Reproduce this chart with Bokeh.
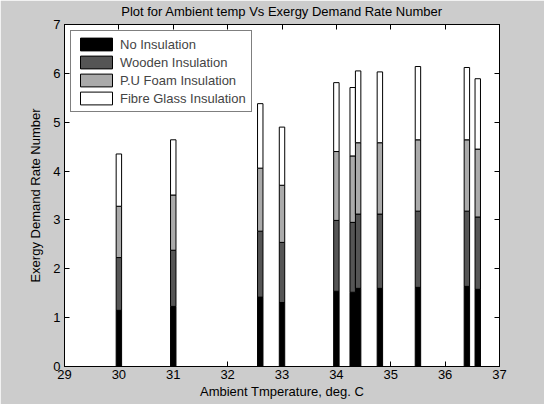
from bokeh.plotting import figure
from bokeh.models import ColumnDataSource, Legend, LegendItem, LinearAxis, FixedTicker, Range1d
from bokeh.embed import file_html
from bokeh.resources import INLINE

# Data
temps = [30.0, 31.0, 32.6, 33.0, 34.0, 34.3, 34.4, 34.8, 35.5, 36.4, 36.6]
no_insulation = [1.15, 1.23, 1.42, 1.31, 1.54, 1.52, 1.60, 1.60, 1.62, 1.64, 1.58]
wooden_insulation = [1.08, 1.15, 1.35, 1.23, 1.45, 1.43, 1.52, 1.52, 1.56, 1.54, 1.48]
pu_foam_insulation = [1.05, 1.13, 1.29, 1.17, 1.41, 1.36, 1.46, 1.46, 1.46, 1.46, 1.39]
fibre_glass_insulation = [1.07, 1.13, 1.32, 1.19, 1.41, 1.40, 1.47, 1.45, 1.50, 1.48, 1.44]
series_names = ["No Insulation", "Wooden Insulation", "P.U Foam Insulation", "Fibre Glass Insulation"]
series_colors = ["#000000", "#555555", "#aaaaaa", "#ffffff"]
x_ticks = [29, 30, 31, 32, 33, 34, 35, 36, 37]
y_ticks = [0, 1, 2, 3, 4, 5, 6, 7]

FONT = "Liberation Sans"

src = ColumnDataSource(dict(x=temps, s0=no_insulation, s1=wooden_insulation,
                            s2=pu_foam_insulation, s3=fibre_glass_insulation))

p = figure(frame_width=435, frame_height=342,
           min_border_left=64, min_border_right=45, min_border_top=24, min_border_bottom=38,
           x_range=Range1d(29, 37), y_range=Range1d(0, 7),
           output_backend="svg", toolbar_location=None,
           title="Plot for Ambient temp Vs Exergy Demand Rate Number")

p.border_fill_color = "#cccccc"
p.background_fill_color = "#ffffff"
p.outline_line_color = "black"
p.xgrid.visible = False
p.ygrid.visible = False

p.title.text_font = FONT
p.title.text_font_size = "13px"
p.title.text_font_style = "normal"
p.title.align = "center"
p.title.text_color = "black"
p.title.vertical_align = "top"
p.title.standoff = 7
p.title.offset = 0

renderers = p.vbar_stack(["s0", "s1", "s2", "s3"], x="x", width=0.1, source=src,
                         fill_color=series_colors, line_color="black", line_width=1)

def style_axis(ax, labels=True):
    ax.major_tick_in = 5
    ax.major_tick_out = 0
    ax.minor_tick_line_color = None
    ax.axis_line_color = "black"
    ax.major_tick_line_color = "black"
    if labels:
        ax.major_label_text_font = FONT
        ax.major_label_text_font_size = "13px"
        ax.major_label_text_color = "black"
        ax.axis_label_text_font = FONT
        ax.axis_label_text_font_size = "13px"
        ax.axis_label_text_font_style = "normal"
        ax.axis_label_text_color = "black"
    else:
        ax.major_label_standoff = 0
        ax.major_label_overrides = {t: "" for t in ax.ticker.ticks}

p.xaxis.ticker = FixedTicker(ticks=x_ticks)
p.yaxis.ticker = FixedTicker(ticks=y_ticks)
p.xaxis.axis_label = "Ambient Tmperature, deg. C"
p.yaxis.axis_label = "Exergy Demand Rate Number"
style_axis(p.xaxis[0])
style_axis(p.yaxis[0])
p.xaxis.major_label_standoff = 3
p.xaxis.axis_label_standoff = 2
p.yaxis.major_label_standoff = 4
p.yaxis.axis_label_standoff = 7

top_ax = LinearAxis(ticker=FixedTicker(ticks=x_ticks))
right_ax = LinearAxis(ticker=FixedTicker(ticks=y_ticks))
style_axis(top_ax, labels=False)
style_axis(right_ax, labels=False)
p.add_layout(top_ax, "above")
p.add_layout(right_ax, "right")

legend = Legend(items=[LegendItem(label=n, renderers=[r]) for n, r in zip(series_names, renderers)],
                location="top_left", margin=6, padding=5, spacing=2,
                glyph_width=40, glyph_height=16, label_height=16, label_standoff=4,
                label_text_font=FONT, label_text_font_size="13px",
                border_line_color="black", border_line_width=1,
                background_fill_color="white", background_fill_alpha=1.0)
p.add_layout(legend, "center")

open("out.html", "w").write(file_html(p, INLINE))
